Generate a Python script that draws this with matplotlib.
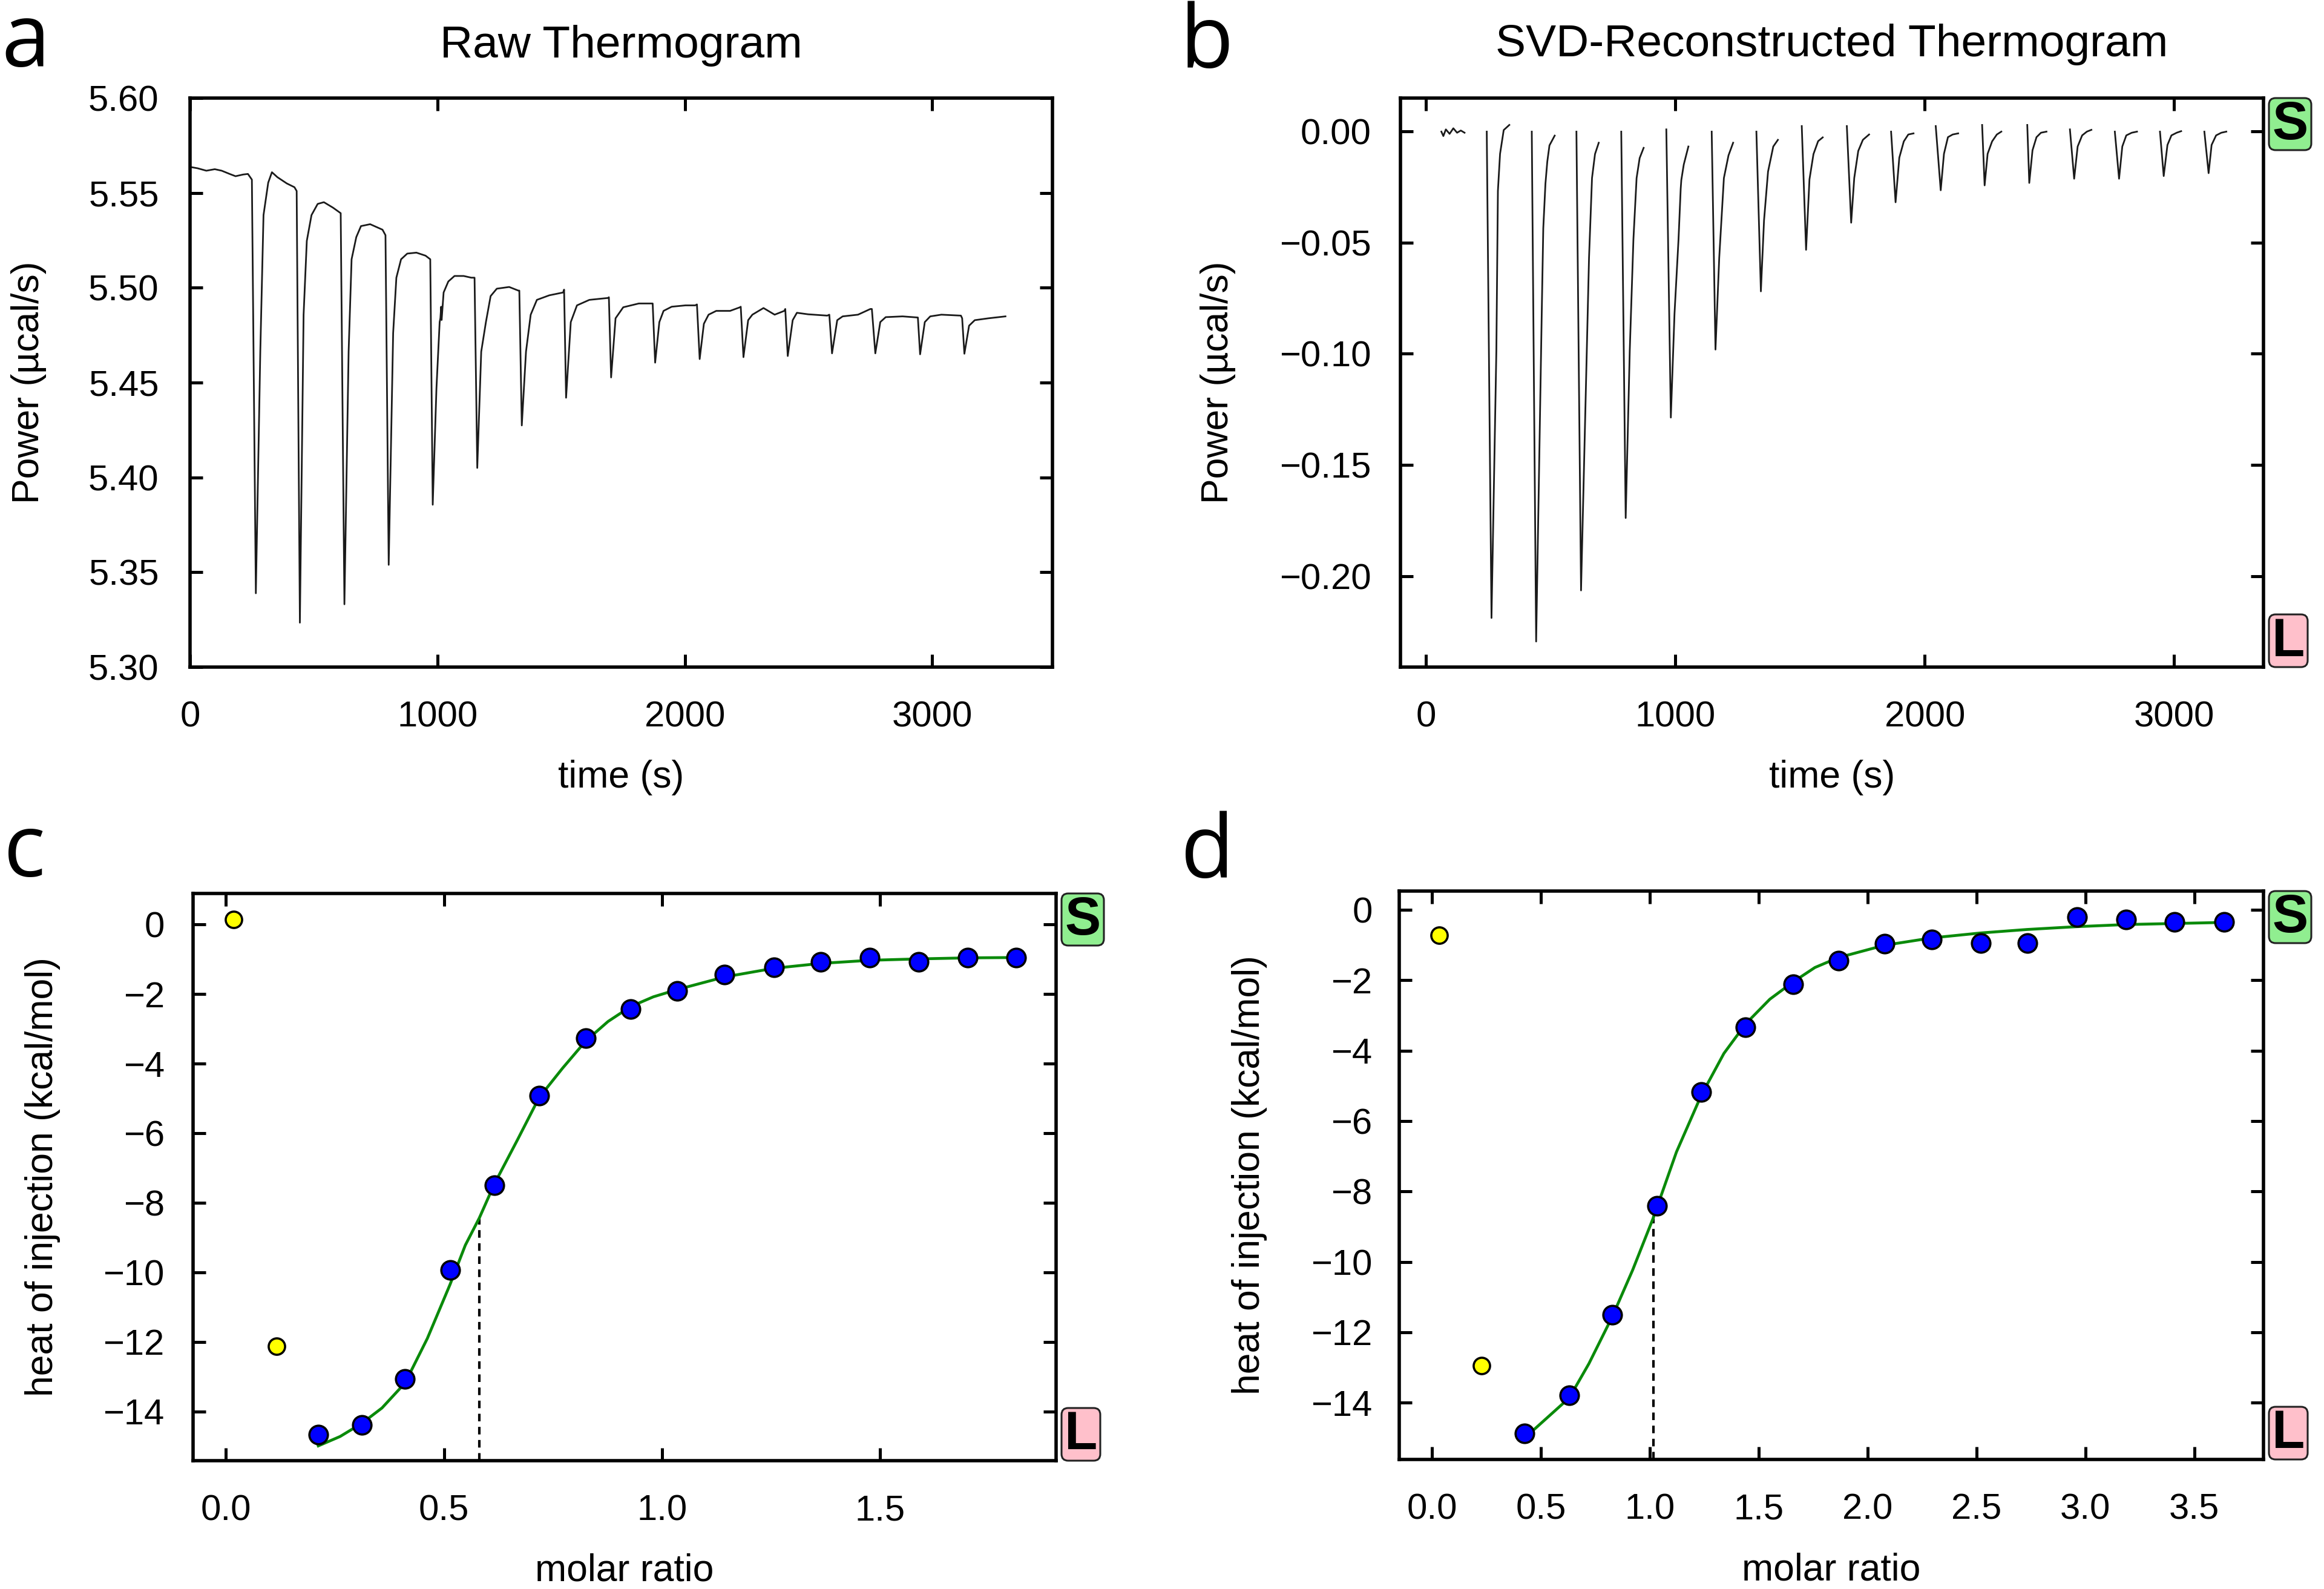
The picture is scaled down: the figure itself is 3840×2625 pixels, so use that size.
import numpy as np
import matplotlib
matplotlib.use("Agg")
import matplotlib.pyplot as plt
from matplotlib.patches import FancyBboxPatch
from matplotlib.transforms import IdentityTransform
from matplotlib.ticker import FuncFormatter

plt.rcParams['font.family'] = ['Liberation Sans', 'DejaVu Sans']
plt.rcParams['axes.unicode_minus'] = True

nan = np.nan

# ---------------- Panel a : raw thermogram ----------------
raw_time = [4, 30, 66, 100, 128, 160, 184, 215, 234, 250,
            266, 284, 297, 316, 331, 353, 391, 422, 431,
            444, 459, 472, 491, 516, 541, 578, 609,
            624, 641, 653, 672, 691, 728, 778, 790,
            803, 821, 834, 853, 878, 915, 952, 971,
            981, 996, 1009, 1012, 1015, 1017, 1025, 1044, 1069, 1106, 1137, 1150,
            1161, 1177, 1196, 1215, 1240, 1290, 1327, 1331,
            1341, 1358, 1377, 1402, 1452, 1508, 1512,
            1520, 1539, 1564, 1614, 1689, 1693,
            1702, 1720, 1751, 1814, 1870,
            1880, 1897, 1914, 1947, 2003, 2042, 2049,
            2060, 2077, 2096, 2127, 2183, 2223, 2226,
            2237, 2256, 2273, 2318, 2363, 2402, 2406,
            2416, 2436, 2453, 2498, 2576, 2584,
            2595, 2616, 2638, 2700, 2750, 2756,
            2770, 2790, 2812, 2880, 2942,
            2951, 2970, 2992, 3037, 3116, 3121,
            3130, 3149, 3172, 3228, 3296]
raw_power = [5.5636, 5.5630, 5.5617, 5.5625, 5.5617, 5.5600, 5.5588, 5.5597, 5.5600, 5.5570,
             5.3389, 5.4663, 5.5383, 5.5554, 5.5609, 5.5583, 5.5550, 5.5530, 5.5510,
             5.3234, 5.4858, 5.5247, 5.5383, 5.5442, 5.5451, 5.5422, 5.5393,
             5.3331, 5.4663, 5.5150, 5.5267, 5.5325, 5.5335, 5.5306, 5.5277,
             5.3539, 5.4761, 5.5053, 5.5150, 5.5180, 5.5185, 5.5169, 5.5150,
             5.3856, 5.4469, 5.4819, 5.4840, 5.4900, 5.4830, 5.4975, 5.5033, 5.5062, 5.5062, 5.5053, 5.5053,
             5.4050, 5.4663, 5.4819, 5.4956, 5.4995, 5.5004, 5.4985, 5.4985,
             5.4274, 5.4663, 5.4858, 5.4936, 5.4960, 5.4975, 5.4990,
             5.4420, 5.4819, 5.4907, 5.4936, 5.4946, 5.4950,
             5.4527, 5.4839, 5.4897, 5.4917, 5.4917,
             5.4605, 5.4819, 5.4878, 5.4900, 5.4907, 5.4907, 5.4912,
             5.4624, 5.4810, 5.4858, 5.4878, 5.4878, 5.4897, 5.4900,
             5.4634, 5.4829, 5.4858, 5.4893, 5.4858, 5.4878, 5.4888,
             5.4640, 5.4829, 5.4868, 5.4860, 5.4853, 5.4858,
             5.4654, 5.4829, 5.4849, 5.4858, 5.4888, 5.4888,
             5.4654, 5.4819, 5.4845, 5.4849, 5.4843,
             5.4649, 5.4819, 5.4849, 5.4858, 5.4853, 5.4839,
             5.4652, 5.4800, 5.4829, 5.4839, 5.4849]

# ---------------- Panel b : SVD-reconstructed thermogram (nan = gap) ----------------
svd_time = [62, 70, 80, 95, 110, 125, 140, 155, nan,
            244, 263, 282.5, 288.7, 297.3, 312, 334.5, nan,
            424.5, 442, 464.4, 470.6, 479.3, 486.7, 495.4, 516.4, nan,
            603.5, 622, 638, 654, 666, 678, 693, nan,
            783.2, 801, 817.3, 832, 844.7, 857, 873, nan,
            963.9, 982, 996.7, 1012.8, 1021.5, 1024, 1033.9, 1052.4, nan,
            1145.8, 1161, 1176, 1194.7, 1213.2, 1231.8, nan,
            1325, 1343, 1355.6, 1371.7, 1392.7, 1411.3, nan,
            1506.9, 1524.2, 1537.8, 1553.9, 1572.5, 1591, nan,
            1687.6, 1705, 1717.3, 1733.4, 1752, 1776.8, nan,
            1865, 1883, 1898, 1916, 1934, 1955, nan,
            2044, 2064, 2077, 2093, 2112, 2134, nan,
            2230, 2240, 2252, 2270, 2289, 2307, nan,
            2411, 2419, 2432, 2448, 2466, 2488, nan,
            2582, 2599, 2613, 2631, 2650, 2668, nan,
            2762, 2779, 2792, 2808, 2830, 2851, nan,
            2943, 2958, 2973, 2989, 3010, 3028, nan,
            3121, 3138, 3150, 3168, 3189, 3209]
svd_power = [0.0, -0.002, 0.001, -0.001, 0.0015, -0.0005, 0.0005, -0.0005, nan,
             0.0, -0.2189, -0.0986, -0.0267, -0.0100, 0.0007, 0.0030, nan,
             0.0, -0.2295, -0.0820, -0.0435, -0.0234, -0.0135, -0.0062, -0.0018, nan,
             0.0, -0.2065, -0.1320, -0.0568, -0.0209, -0.0101, -0.0050, nan,
             0.0, -0.1739, -0.0986, -0.0485, -0.0209, -0.0119, -0.0073, nan,
             0.0010, -0.1287, -0.0820, -0.0485, -0.0258, -0.0218, -0.0148, -0.0067, nan,
             0.0, -0.0981, -0.0568, -0.0209, -0.0107, -0.0050, nan,
             0.0, -0.0719, -0.0400, -0.0180, -0.0067, -0.0037, nan,
             0.0025, -0.0532, -0.0215, -0.0101, -0.0043, -0.0026, nan,
             0.0025, -0.0410, -0.0209, -0.0087, -0.0037, -0.0013, nan,
             0.0, -0.0318, -0.0117, -0.0044, -0.0013, -0.0008, nan,
             0.0025, -0.0264, -0.0100, -0.0025, -0.0013, -0.0008, nan,
             0.0030, -0.0242, -0.0100, -0.0044, -0.0013, 0.0, nan,
             0.0030, -0.0231, -0.0084, -0.0025, -0.0005, 0.0, nan,
             0.0010, -0.0212, -0.0067, -0.0017, 0.0, 0.0008, nan,
             0.0, -0.0212, -0.0067, -0.0017, -0.0005, 0.0, nan,
             0.0, -0.0200, -0.0060, -0.0017, -0.0005, 0.0002, nan,
             0.0, -0.0187, -0.0060, -0.0017, -0.0005, 0.0]

# ---------------- Panel c : isotherm (raw) ----------------
c_excl_ratio = [0.0175, 0.116]
c_excl_heat = [0.14, -12.12]
c_ratio = [0.212, 0.312, 0.411, 0.514, 0.616, 0.718, 0.825, 0.928,
           1.035, 1.143, 1.256, 1.363, 1.476, 1.588, 1.701, 1.812]
c_heat = [-14.67, -14.38, -13.07, -9.93, -7.50, -4.92, -3.27, -2.43,
          -1.91, -1.44, -1.23, -1.07, -0.95, -1.07, -0.95, -0.95]
c_fit_ratio = [0.212, 0.262, 0.312, 0.358, 0.411, 0.462, 0.514, 0.549, 0.581, 0.616,
               0.669, 0.718, 0.772, 0.825, 0.876, 0.928, 0.98, 1.035, 1.143,
               1.256, 1.363, 1.476, 1.588, 1.701, 1.812]
c_fit_heat = [-14.99, -14.72, -14.34, -13.90, -13.18, -11.90, -10.35, -9.22, -8.44, -7.45,
              -6.18, -4.98, -4.13, -3.35, -2.79, -2.36, -2.08, -1.87, -1.51,
              -1.26, -1.12, -1.03, -0.99, -0.96, -0.95]
c_equiv_ratio = 0.581
c_equiv_heat = -8.44

# ---------------- Panel d : isotherm (SVD) ----------------
d_excl_ratio = [0.0335, 0.228]
d_excl_heat = [-0.73, -12.95]
d_ratio = [0.425, 0.630, 0.827, 1.032, 1.236, 1.440, 1.658, 1.866,
           2.077, 2.294, 2.519, 2.733, 2.961, 3.188, 3.410, 3.637]
d_heat = [-14.87, -13.79, -11.51, -8.41, -5.17, -3.34, -2.12, -1.44,
          -0.96, -0.84, -0.94, -0.94, -0.21, -0.28, -0.34, -0.35]
d_fit_ratio = [0.425, 0.63, 0.72, 0.827, 0.921, 1.015, 1.031, 1.122, 1.236, 1.34,
               1.44, 1.551, 1.658, 1.758, 1.865, 2.076, 2.294, 2.518, 2.733,
               2.96, 3.188, 3.409, 3.637]
d_fit_heat = [-15.0, -13.86, -12.89, -11.56, -10.23, -8.76, -8.48, -6.88, -5.27, -4.08,
              -3.24, -2.54, -2.05, -1.64, -1.36, -1.01, -0.80, -0.66, -0.56,
              -0.48, -0.42, -0.39, -0.36]
d_equiv_ratio = 1.015
d_equiv_heat = -8.6

# ---------------- Figure ----------------
W, H = 3840, 2625
fig = plt.figure(figsize=(W / 100, H / 100), dpi=100)


def px_axes(left, top, right, bottom):
    return fig.add_axes([left / W, 1 - bottom / H, (right - left) / W, (bottom - top) / H])


ax_a = px_axes(314, 162, 1739, 1102)
ax_b = px_axes(2314, 162, 3740, 1102)
ax_c = px_axes(319, 1476, 1745, 2413)
ax_d = px_axes(2312, 1472, 3740, 2411)

TICK_FS = 43
LABEL_FS = 45


def minus_fmt(fmt):
    return FuncFormatter(lambda v, p: (fmt % v).replace('-', '\u2212'))


def style(ax, xlim, ylim, xticks, yticks, xfmt, yfmt, ypad):
    ax.set_xlim(*xlim)
    ax.set_ylim(*ylim)
    ax.set_xticks(xticks)
    ax.set_yticks(yticks)
    ax.xaxis.set_major_formatter(minus_fmt(xfmt))
    ax.yaxis.set_major_formatter(minus_fmt(yfmt))
    ax.tick_params(direction='in', length=15, width=3.6, top=True, right=True,
                   labelsize=TICK_FS, colors='black')
    ax.tick_params(axis='x', pad=40)
    ax.tick_params(axis='y', pad=ypad)
    for s in ax.spines.values():
        s.set_linewidth(4.0)


style(ax_a, (0, 3486), (5.30, 5.60), [0, 1000, 2000, 3000],
      [5.30, 5.35, 5.40, 5.45, 5.50, 5.55, 5.60], '%d', '%.2f', 37)
style(ax_b, (-102, 3358), (-0.241, 0.0151), [0, 1000, 2000, 3000],
      [-0.20, -0.15, -0.10, -0.05, 0.0], '%d', '%.2f', 35)
style(ax_c, (-0.075, 1.903), (-15.415, 0.891), [0.0, 0.5, 1.0, 1.5],
      list(range(-14, 1, 2)), '%.1f', '%d', 34)
style(ax_d, (-0.151, 3.818), (-15.61, 0.531), [0.0, 0.5, 1.0, 1.5, 2.0, 2.5, 3.0, 3.5],
      list(range(-14, 1, 2)), '%.1f', '%d', 32)

# thermograms
ax_a.plot(raw_time, raw_power, color='#1a1a1a', lw=2.0)
ax_b.plot(svd_time, svd_power, color='#1a1a1a', lw=2.0)

# isotherms
for ax, er, eh, r, h, fr, fh, qx, qy in [
        (ax_c, c_excl_ratio, c_excl_heat, c_ratio, c_heat, c_fit_ratio, c_fit_heat,
         c_equiv_ratio, c_equiv_heat),
        (ax_d, d_excl_ratio, d_excl_heat, d_ratio, d_heat, d_fit_ratio, d_fit_heat,
         d_equiv_ratio, d_equiv_heat)]:
    ymin = ax.get_ylim()[0]
    ax.plot([qx, qx], [ymin, qy], color='black', lw=3.0, ls=(0, (3, 2.2)), zorder=2)
    ax.plot(fr, fh, color='#0a8a0a', lw=3.4, zorder=3)
    ax.plot(r, h, 'o', ms=22, mfc='#0000ff', mec='black', mew=2.6, zorder=4)
    ax.plot(er, eh, 'o', ms=19.5, mfc='#ffff00', mec='black', mew=2.6, zorder=4)

# labels
ax_a.set_ylabel('Power (\u00b5cal/s)', fontsize=LABEL_FS)
ax_b.set_ylabel('Power (\u00b5cal/s)', fontsize=LABEL_FS)
ax_c.set_ylabel('heat of injection (kcal/mol)', fontsize=LABEL_FS)
ax_d.set_ylabel('heat of injection (kcal/mol)', fontsize=LABEL_FS)
ax_a.set_xlabel('time (s)', fontsize=LABEL_FS)
ax_b.set_xlabel('time (s)', fontsize=LABEL_FS)
ax_c.set_xlabel('molar ratio', fontsize=LABEL_FS)
ax_d.set_xlabel('molar ratio', fontsize=LABEL_FS)
ax_a.yaxis.set_label_coords(-0.166, 0.5)
ax_b.yaxis.set_label_coords(-0.1907, 0.5)
ax_c.yaxis.set_label_coords(-0.1536, 0.5)
ax_d.yaxis.set_label_coords(-0.1527, 0.5)
for ax in (ax_a, ax_b, ax_c, ax_d):
    ax.xaxis.set_label_coords(0.5, -0.163)

ax_a.set_title('Raw Thermogram', fontsize=54, y=1.0713, pad=0)
ax_b.set_title('SVD-Reconstructed Thermogram', fontsize=54, y=1.0735, pad=0)

# panel letters
for letter, x, y in [('a', 2, 110), ('b', 1950, 112), ('c', 6, 1448), ('d', 1951, 1450)]:
    fig.text(x / W, 1 - y / H, letter, fontsize=104, family=['Open Sans', 'DejaVu Sans'],
             ha='left', va='baseline')


# S / L badges
def badge(ax, letter, color, top):
    pos = ax.get_position()
    x0 = pos.x1 * W + 9
    if letter == 'S':
        w, h = 70, 86
    else:
        w, h = 64, 87
    if top:
        y1 = pos.y1 * H
        y0 = y1 - h
    else:
        y0 = pos.y0 * H
    p = FancyBboxPatch((x0, y0), w, h, boxstyle='round,pad=0,rounding_size=11',
                       fc=color, ec='#222222', lw=2.2, transform=IdentityTransform())
    fig.add_artist(p)
    fig.text((x0 + w / 2) / W, (y0 + h / 2 - 2) / H, letter, fontsize=64, fontweight='bold',
             ha='center', va='center', color='black')


for ax in (ax_b, ax_c, ax_d):
    badge(ax, 'S', '#90ee90', True)
    badge(ax, 'L', '#ffc0cb', False)

fig.savefig('out.png', dpi=100)
